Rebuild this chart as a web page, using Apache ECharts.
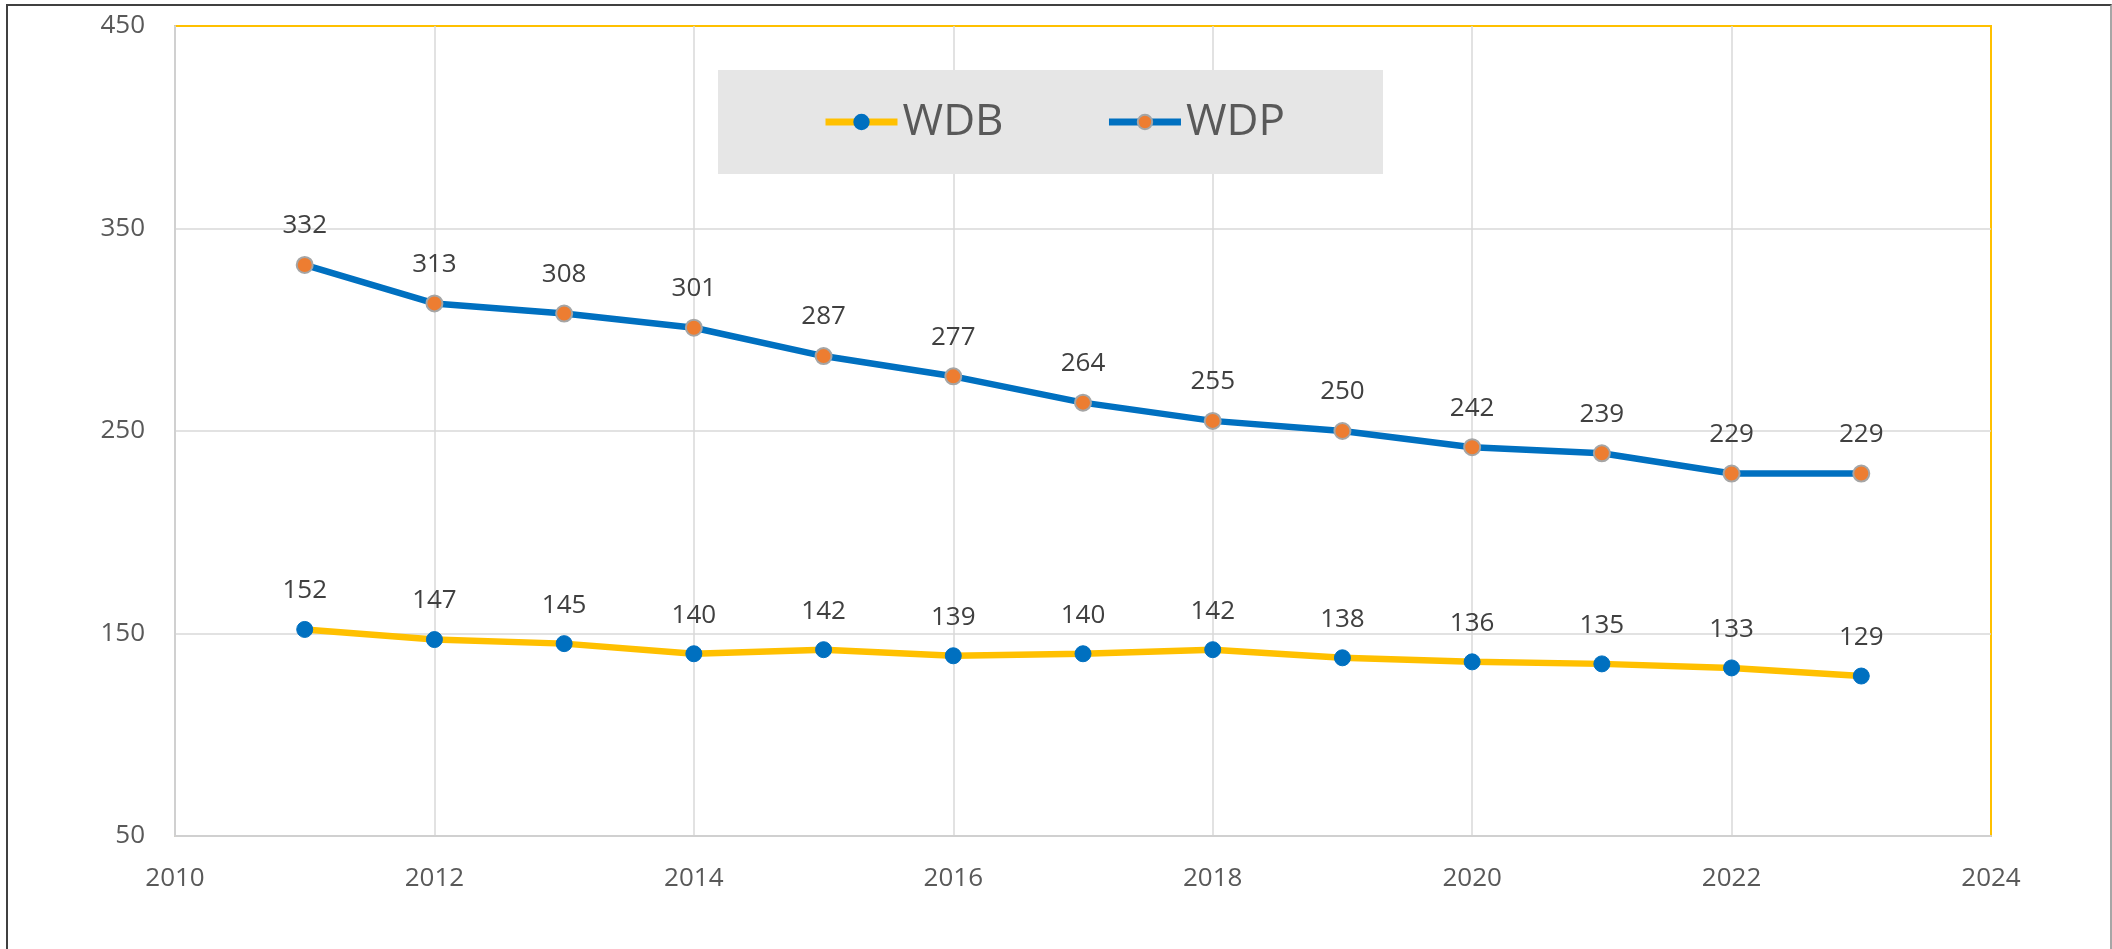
<!DOCTYPE html>
<html>
<head>
<meta charset="utf-8">
<title>WDB / WDP</title>
<script src="https://cdn.jsdelivr.net/npm/echarts@6/dist/echarts.min.js"></script>
<style>
	html, body { margin: 0; padding: 0; background: #fff; }
	#main { position: absolute; left: 0; top: 0; width: 2112px; height: 949px; }
	.frame {
		position: absolute; left: 6px; top: 4px; width: 2102px; height: 960px;
		border-left: 2px solid #404040; border-top: 2px solid #404040;
		border-right: 2px solid #a6a6a6; pointer-events: none;
	}
</style>
</head>
<body>
<div id="main"></div>
<div class="frame"></div>
<script>
	// 数据
	var years = [2011, 2012, 2013, 2014, 2015, 2016, 2017, 2018, 2019, 2020, 2021, 2022, 2023];
	var wdb = [152, 147, 145, 140, 142, 139, 140, 142, 138, 136, 135, 133, 129];
	var wdp = [332, 313, 308, 301, 287, 277, 264, 255, 250, 242, 239, 229, 229];
	var seriesNames = ['WDB', 'WDP'];

	function pairs(vals) {
		return years.map(function (y, i) { return [y, vals[i]]; });
	}

	var font = 'Open Sans';
	var myChart = echarts.init(document.getElementById('main'));
	var option = {
		animation: false,
		backgroundColor: '#fff',
		textStyle: { fontFamily: font },
		grid: {
			left: 175, right: 121, top: 26, bottom: 113,
			show: true,
			borderColor: '#FFC000',
			borderWidth: 2,
			backgroundColor: '#fff'
		},
		legend: {
			data: seriesNames,
			left: 718,
			top: 70,
			padding: [30, 98, 30, 104],
			backgroundColor: '#e6e6e6',
			itemWidth: 72,
			itemHeight: 18,
			itemGap: 102,
			lineStyle: { width: 7 },
			textStyle: { fontSize: 44, color: '#595959', lineHeight: 42, fontFamily: font }
		},
		xAxis: {
			type: 'value',
			min: 2010,
			max: 2024,
			interval: 2,
			axisLine: { show: true, lineStyle: { color: '#d0d0d0', width: 2 } },
			axisTick: { show: false },
			axisLabel: {
				fontSize: 26, color: '#595959', margin: 30,
				formatter: function (v) { return String(v); }
			},
			splitLine: { show: true, showMinLine: false, showMaxLine: false, lineStyle: { color: '#d9d9d9', width: 1.5 } }
		},
		yAxis: {
			type: 'value',
			min: 50,
			max: 450,
			interval: 100,
			axisLine: { show: true, lineStyle: { color: '#d0d0d0', width: 2 } },
			axisTick: { show: false },
			axisLabel: { fontSize: 26, color: '#595959', margin: 30 },
			splitLine: { show: true, showMinLine: false, showMaxLine: false, lineStyle: { color: '#d9d9d9', width: 1.5 } }
		},
		series: [
			{
				name: 'WDB',
				type: 'line',
				data: pairs(wdb),
				symbol: 'circle',
				symbolSize: 16,
				lineStyle: { color: '#FFC000', width: 6.5 },
				itemStyle: { color: '#0070C0', borderColor: '#0070C0', borderWidth: 1 },
				label: { show: true, position: 'top', distance: 17, fontSize: 26, color: '#404040' }
			},
			{
				name: 'WDP',
				type: 'line',
				data: pairs(wdp),
				symbol: 'circle',
				symbolSize: 16,
				lineStyle: { color: '#0070C0', width: 6.5 },
				itemStyle: { color: '#ED7D31', borderColor: '#A5A5A5', borderWidth: 2 },
				label: { show: true, position: 'top', distance: 17, fontSize: 26, color: '#404040' }
			}
		]
	};
	myChart.setOption(option);
</script>
</body>
</html>
